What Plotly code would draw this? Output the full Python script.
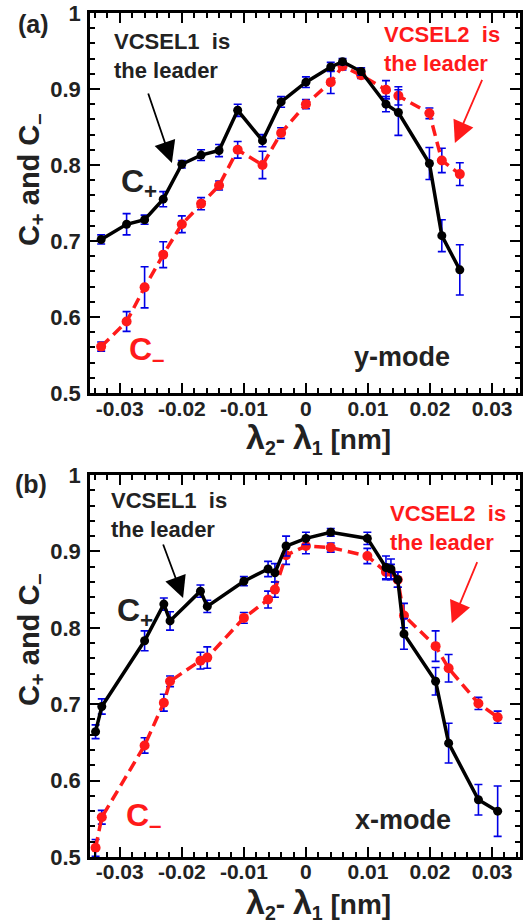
import plotly.graph_objects as go

# ---------------- data: panel (a) y-mode ----------------
xa = [-0.0330, -0.0289, -0.0260, -0.0230, -0.0200, -0.0169, -0.0140, -0.0110,
      -0.0070, -0.0040, 0.0000, 0.0040, 0.0059, 0.0089, 0.0129, 0.0149,
      0.0199, 0.0219, 0.0248]
cplus_a = [0.702, 0.722, 0.728, 0.755, 0.801, 0.813, 0.819, 0.872, 0.832,
           0.883, 0.909, 0.929, 0.936, 0.923, 0.880, 0.869, 0.802, 0.707, 0.662]
cplus_a_err = [0.006, 0.014, 0.006, 0.010, 0.005, 0.007, 0.008, 0.008, 0.008,
               0.007, 0.007, 0.006, 0.004, 0.005, 0.010, 0.030, 0.021, 0.021, 0.033]
cminus_a = [0.561, 0.594, 0.639, 0.682, 0.722, 0.749, 0.773, 0.820, 0.800,
            0.842, 0.880, 0.909, 0.930, 0.918, 0.899, 0.891, 0.868, 0.806, 0.788]
cminus_a_err = [0.006, 0.013, 0.027, 0.017, 0.011, 0.008, 0.006, 0.011, 0.018,
                0.007, 0.006, 0.015, 0.005, 0.004, 0.012, 0.012, 0.007, 0.016, 0.015]

# ---------------- data: panel (b) x-mode ----------------
xb = [-0.0339, -0.0329, -0.0260, -0.0229, -0.0219, -0.0170, -0.0159, -0.0100,
      -0.0061, -0.0050, -0.0032, 0.0000, 0.0040, 0.0099, 0.0129, 0.0137,
      0.0148, 0.0158, 0.0209, 0.0230, 0.0278, 0.0309]
cplus_b = [0.664, 0.697, 0.783, 0.831, 0.809, 0.848, 0.828, 0.861, 0.877,
           0.872, 0.907, 0.917, 0.925, 0.917, 0.879, 0.877, 0.863, 0.792,
           0.730, 0.649, 0.575, 0.560]
cplus_b_err = [0.009, 0.010, 0.013, 0.008, 0.012, 0.008, 0.008, 0.006, 0.010,
               0.012, 0.013, 0.008, 0.005, 0.008, 0.015, 0.013, 0.010, 0.020,
               0.018, 0.026, 0.020, 0.033]
cminus_b = [0.512, 0.552, 0.646, 0.702, 0.730, 0.757, 0.761, 0.813, 0.837,
            0.850, 0.895, 0.907, 0.905, 0.894, 0.873, 0.873, 0.863, 0.816,
            0.776, 0.747, 0.701, 0.683]
cminus_b_err = [0.011, 0.009, 0.010, 0.011, 0.007, 0.011, 0.014, 0.007, 0.011,
                0.010, 0.012, 0.010, 0.006, 0.010, 0.010, 0.010, 0.010, 0.016,
                0.020, 0.018, 0.008, 0.008]

x_tickvals = [-0.03, -0.02, -0.01, 0.0, 0.01, 0.02, 0.03]
x_ticktext = ["-0.03", "-0.02", "-0.01", "0", "0.01", "0.02", "0.03"]
y_tickvals = [0.5, 0.6, 0.7, 0.8, 0.9, 1.0]
y_ticktext = ["0.5", "0.6", "0.7", "0.8", "0.9", "1"]

FONT = "Liberation Sans"
BLUE = "#0000e6"
RED = "#ff1a1a"
DARK = "#222"
XR = [-0.0348, 0.0345]
YR = [0.5, 1.0]

fig = go.Figure()


def add_panel(x, cp, cpe, cm, cme, xaxis, yaxis):
    fig.add_trace(go.Scatter(
        x=x, y=cm, mode="lines+markers", xaxis=xaxis, yaxis=yaxis,
        line=dict(color=RED, width=3.5, dash="11px,6px"),
        marker=dict(color=RED, size=10),
        error_y=dict(type="data", array=cme, color=BLUE, thickness=1.6, width=4),
        showlegend=False))
    fig.add_trace(go.Scatter(
        x=x, y=cp, mode="lines+markers", xaxis=xaxis, yaxis=yaxis,
        line=dict(color="black", width=3.5),
        marker=dict(color="black", size=9),
        error_y=dict(type="data", array=cpe, color=BLUE, thickness=1.6, width=4),
        showlegend=False))


add_panel(xa, cplus_a, cplus_a_err, cminus_a, cminus_a_err, "x", "y")
add_panel(xb, cplus_b, cplus_b_err, cminus_b, cminus_b_err, "x2", "y2")


def axes(kind):
    base = dict(showline=True, linewidth=2.5, linecolor="black", mirror="ticks",
                ticks="inside", tickcolor="black", showgrid=False, zeroline=False,
                ticklen=10, tickwidth=2)
    if kind == "x":
        base.update(range=XR, tickvals=x_tickvals, ticktext=x_ticktext,
                    minor=dict(dtick=0.002, tick0=0, ticks="inside", ticklen=5,
                               tickwidth=1.5, tickcolor="black"),
                    tickfont=dict(family=FONT, size=21, color=DARK, weight="bold"))
    else:
        base.update(range=YR, tickvals=y_tickvals, ticktext=y_ticktext,
                    minor=dict(dtick=0.02, tick0=0.5, ticks="inside", ticklen=5,
                               tickwidth=1.5, tickcolor="black"),
                    ticklabelstandoff=2,
                    tickfont=dict(family=FONT, size=22, color=DARK, weight="bold"))
    return base


fig.update_layout(
    width=525, height=924, template="none",
    margin=dict(l=90, r=5, t=13, b=67),
    paper_bgcolor="white", plot_bgcolor="white",
    xaxis=dict(axes("x"), domain=[0, 1], anchor="y", ticklabelstandoff=-5),
    yaxis=dict(axes("y"), domain=[0.5498, 1.0], anchor="x"),
    xaxis2=dict(axes("x"), domain=[0, 1], anchor="y2", ticklabelstandoff=-6),
    yaxis2=dict(axes("y"), domain=[0.0, 0.4526], anchor="x2"),
)

ann = []


def txt(text, x, y, xref, yref, size, color, xanchor="center", yanchor="middle", angle=0):
    ann.append(dict(text=text, x=x, y=y, xref=xref, yref=yref, showarrow=False,
                    xanchor=xanchor, yanchor=yanchor, textangle=angle, align="left",
                    font=dict(family=FONT, size=size, color=color, weight="bold")))


def arrow(x, y, ax, ay, xref, yref, color):
    ann.append(dict(text="", x=x, y=y, ax=ax, ay=ay, xref=xref, yref=yref,
                    axref=xref, ayref=yref, showarrow=True, arrowhead=2,
                    arrowsize=2.4, arrowwidth=1.8, arrowcolor=color))


NB = "\u00a0"
L1 = "VCSEL1" + NB + " is<br>the leader"
L2 = "VCSEL2" + NB + " is<br>the leader"
XTITLE = ("<span style='font-size:34px'>λ</span><sub>2</sub>-" + NB
          + "<span style='font-size:34px'>λ</span><sub>1</sub>" + NB + "[nm]")

# panel (a)
txt("(a)", (33 - 90) / 430, (857 - 24) / 844, "paper", "paper", 25, DARK)
txt(L1, -0.0313, 0.943, "x", "y", 22, DARK, xanchor="left")
txt(L2, 0.0122, 0.953, "x", "y", 22, RED, xanchor="left")
arrow(-0.0216, 0.8026, -0.0255, 0.896, "x", "y", "black")
arrow(0.0240, 0.829, 0.0285, 0.914, "x", "y", RED)
txt("C<sub>+</sub>", -0.0301, 0.776, "x", "y", 32, DARK, xanchor="left")
txt("C<sub>–</sub>", -0.0288, 0.555, "x", "y", 32, RED, xanchor="left")
txt("y-mode", 0.0155, 0.547, "x", "y", 27, DARK)
# panel (b)
txt("(b)", (31 - 90) / 430, (857 - 484) / 844, "paper", "paper", 25, DARK)
txt(L1, -0.0318, 0.9475, "x2", "y2", 22, DARK, xanchor="left")
txt(L2, 0.0133, 0.931, "x2", "y2", 22, RED, xanchor="left")
arrow(-0.0198, 0.839, -0.0231, 0.911, "x2", "y2", "black")
arrow(0.0235, 0.806, 0.0277, 0.888, "x2", "y2", RED)
txt("C<sub>+</sub>", -0.0307, 0.8196, "x2", "y2", 32, DARK, xanchor="left")
txt("C<sub>–</sub>", -0.0293, 0.552, "x2", "y2", 32, RED, xanchor="left")
txt("x-mode", 0.0156, 0.548, "x2", "y2", 27, DARK)

# axis titles
txt("C<sub>+</sub> and C<sub>–</sub>", -0.137, 0.8021, "paper", "paper", 29, DARK, angle=-90)
txt("C<sub>+</sub> and C<sub>–</sub>", -0.137, 0.2571, "paper", "paper", 29, DARK, angle=-90)
txt(XTITLE, (318 - 90) / 430, (857 - 438) / 844, "paper", "paper", 28, DARK)
txt(XTITLE, (318 - 90) / 430, (857 - 903) / 844, "paper", "paper", 28, DARK)

fig.update_layout(annotations=ann)
fig.write_html("out.html")
